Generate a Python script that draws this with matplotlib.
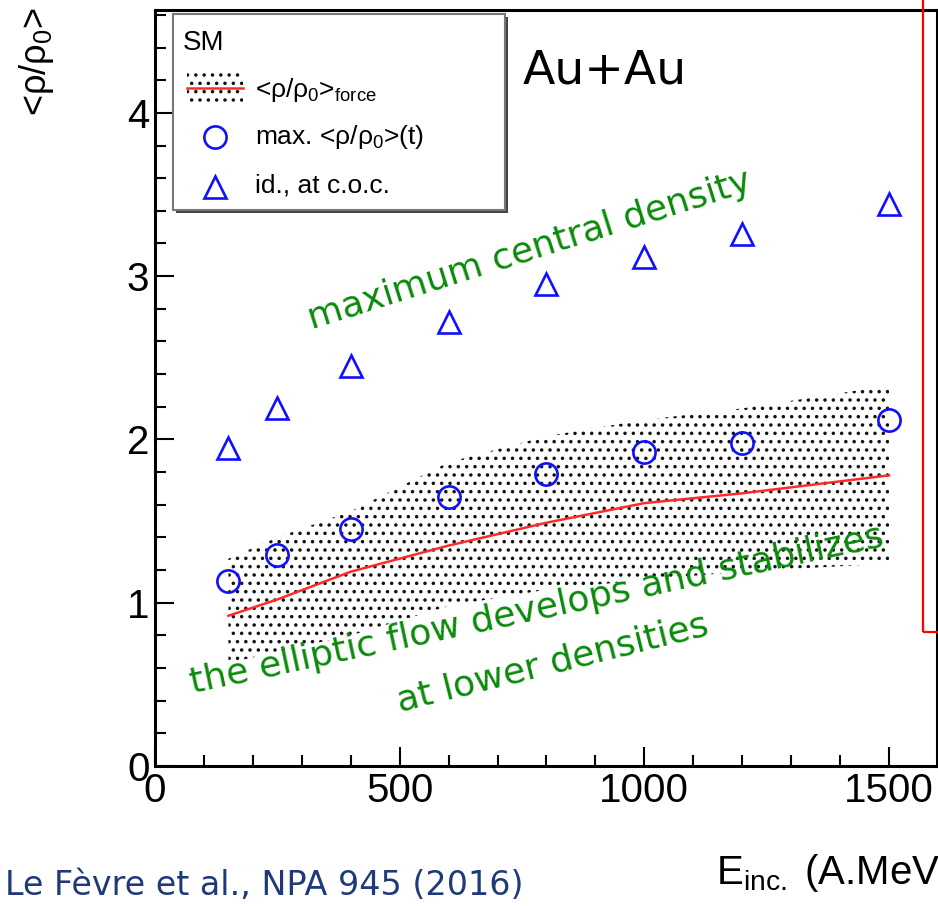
import matplotlib
matplotlib.use("Agg")
import matplotlib.pyplot as plt
from matplotlib.patches import Rectangle
from matplotlib.lines import Line2D

# ---------------- data ----------------
energy = [150, 250, 400, 600, 800, 1000, 1200, 1500]
rho_force = [0.92, 1.02, 1.19, 1.35, 1.49, 1.61, 1.67, 1.78]
rho_force_hi = [1.27, 1.40, 1.56, 1.86, 2.02, 2.12, 2.19, 2.33]
rho_force_lo = [0.63, 0.70, 0.80, 0.98, 1.08, 1.14, 1.19, 1.24]
rho_max = [1.13, 1.29, 1.45, 1.65, 1.79, 1.92, 1.98, 2.12]
rho_coc = [1.95, 2.19, 2.45, 2.72, 2.95, 3.12, 3.26, 3.44]
xticks = [0, 500, 1000, 1500]
yticks = [0, 1, 2, 3, 4]

plt.rcParams['font.family'] = ['Liberation Sans', 'DejaVu Sans']
plt.rcParams['mathtext.fontset'] = 'custom'
plt.rcParams['mathtext.rm'] = 'Liberation Sans'
plt.rcParams['mathtext.it'] = 'Liberation Sans:italic'
plt.rcParams['hatch.linewidth'] = 1.3

W, H = 938, 906
fig = plt.figure(figsize=(W / 100, H / 100), dpi=100)
AX_L, AX_R, AX_B, AX_T = 155, 937, 766, 10
ax = fig.add_axes([AX_L / W, 1 - AX_B / H, (AX_R - AX_L) / W, (AX_B - AX_T) / H])
ax.set_xlim(0, 1598)
ax.set_ylim(0, 4.63)


def axf(px, py):
    return ((px - AX_L) / (AX_R - AX_L), (AX_B - py) / (AX_B - AX_T))


# band
ax.fill_between(energy, rho_force_lo, rho_force_hi, facecolor='none',
                edgecolor='#111111', linewidth=0, hatch='..', zorder=1)
ax.plot(energy, rho_force, color='#ff2a2a', lw=1.8, zorder=2)
ax.plot(energy, rho_max, ls='none', marker='o', ms=16, mfc='none',
        mec='#1010ff', mew=1.9, zorder=3)
ax.plot(energy, rho_coc, ls='none', marker='^', ms=16, mfc='none',
        mec='#1010ff', mew=1.9, zorder=3)

# axes styling (ROOT-like)
for s in ax.spines.values():
    s.set_linewidth(2.2)
ax.set_xticks(xticks)
ax.set_yticks(yticks)
ax.set_xticks(range(0, 1600, 100), minor=True)
ax.set_yticks([i * 0.2 for i in range(24)], minor=True)
ax.tick_params(which='both', direction='in', width=1.5, top=False, right=False)
ax.tick_params(which='major', length=14, labelsize=29, pad=4)
ax.tick_params(which='minor', length=8)

ax.set_ylabel('<ρ/ρ$_0$>', fontsize=26)
lbl = ax.yaxis.label
lbl.set_rotation_mode('default')
lbl.set_ha('center')
lbl.set_va('top')
ax.yaxis.set_label_coords(*axf(36, 7))

ax.set_xlabel('E$_{\\mathrm{inc.}}$ (A.MeV)', fontsize=29)
xl = ax.xaxis.label
xl.set_ha('left')
xl.set_va('baseline')
ax.xaxis.set_label_coords(*axf(716, 884))

# legend (ROOT style box drawn by hand)
lx0, ly0 = axf(173, 210)
lx1, ly1 = axf(505, 14)
sx, sy = 3 / (AX_R - AX_L), 3 / (AX_B - AX_T)
ax.add_patch(Rectangle((lx0 + sx, ly0 - sy), lx1 - lx0, ly1 - ly0,
                       transform=ax.transAxes, facecolor='#444444',
                       edgecolor='none', zorder=5, clip_on=False))
ax.add_patch(Rectangle((lx0, ly0), lx1 - lx0, ly1 - ly0,
                       transform=ax.transAxes, facecolor='white',
                       edgecolor='#777777', lw=1.5, zorder=6, clip_on=False))
ax.text(*axf(183, 50), 'SM', transform=ax.transAxes, fontsize=20,
        va='baseline', ha='left', zorder=7)
bx0, by0 = axf(187, 105)
bx1, by1 = axf(243, 72)
ax.add_patch(Rectangle((bx0, by0), bx1 - bx0, by1 - by0, transform=ax.transAxes,
                       facecolor='none', edgecolor='#111111', lw=0, hatch='..',
                       zorder=7))
ax.add_line(Line2D([bx0, bx1], [axf(0, 88)[1]] * 2, transform=ax.transAxes,
                   color='#ff2a2a', lw=1.8, zorder=8))
ax.plot(*axf(215, 137), transform=ax.transAxes, marker='o', ms=16, mfc='none',
        mec='#1010ff', mew=1.9, zorder=8)
ax.plot(*axf(215, 187), transform=ax.transAxes, marker='^', ms=16, mfc='none',
        mec='#1010ff', mew=1.9, zorder=8)
ax.text(*axf(255, 90), '<ρ/ρ$_0$>$_{\\mathrm{force}}$', transform=ax.transAxes,
        fontsize=19, va='center', ha='left', zorder=8)
ax.text(*axf(255, 137), 'max. <ρ/ρ$_0$>(t)', transform=ax.transAxes,
        fontsize=19, va='center', ha='left', zorder=8)
ax.text(*axf(255, 186), 'id., at c.o.c.', transform=ax.transAxes,
        fontsize=19, va='center', ha='left', zorder=8)

# annotations
ax.text(*axf(523, 83), 'Au+Au', transform=ax.transAxes, fontsize=34,
        family='DejaVu Sans', va='baseline', ha='left', zorder=8)
green = '#0a8a0a'
ax.text(*axf(530, 250), 'maximum central density', transform=ax.transAxes,
        fontsize=26, color=green, rotation=17.5, ha='center', va='center',
        family='DejaVu Sans', zorder=8)
ax.text(*axf(537, 610), 'the elliptic flow develops and stabilizes',
        transform=ax.transAxes, fontsize=26, color=green, rotation=12,
        ha='center', va='center', family='DejaVu Sans', zorder=8)
ax.text(*axf(553, 663), 'at lower densities', transform=ax.transAxes,
        fontsize=26, color=green, rotation=14, ha='center', va='center',
        family='DejaVu Sans', zorder=8)

fig.text(5 / W, 1 - 895 / H, 'Le Fèvre et al., NPA 945 (2016)',
         fontsize=24, color='#1f3a78', family='DejaVu Sans', va='baseline',
         ha='left')

# red frame on the right
fig.patches.append(Rectangle((923 / W, 1 - 632 / H), 0.2, 0.8,
                             transform=fig.transFigure, facecolor='none',
                             edgecolor='#ff0000', lw=1.6, zorder=10))

fig.savefig('out.png', dpi=100)
